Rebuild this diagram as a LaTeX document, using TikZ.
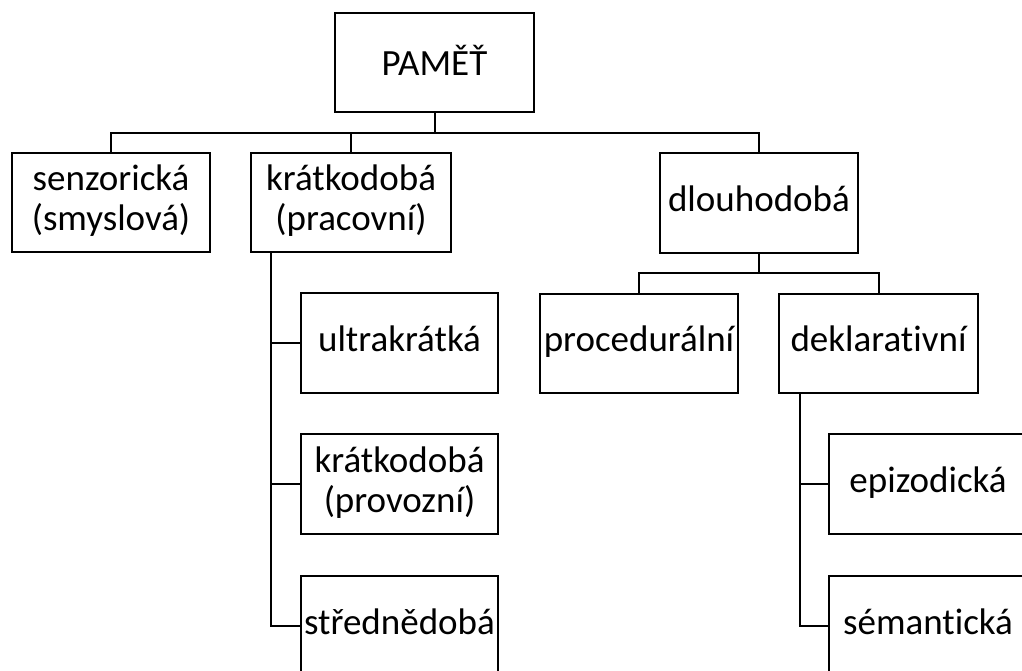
\documentclass[tikz,border=0pt]{standalone}
\usepackage{fontspec}
\setmainfont{Carlito}[Ligatures=NoCommon]
\begin{document}
\begin{tikzpicture}[x=1pt,y=-1pt,
  box/.style={draw, line width=2pt, inner sep=0pt, align=center,
    font=\fontsize{37}{40}\selectfont},
  conn/.style={line width=2pt}]
\useasboundingbox (0,0) rectangle (1022,670);
\clip (0,0) rectangle (1022,670);
\node[box, minimum width=199pt, minimum height=99pt] (pam) at (434.5,62.5) {\strut\raisebox{-5pt}{PAMĚŤ}};
\node[box, minimum width=198pt, minimum height=99pt] (sen) at (111,202.5) {\strut senzorická\\\strut(smyslová)};
\node[box, minimum width=200pt, minimum height=99pt] (kra) at (351,202.5) {\strut krátkodobá\\\strut(pracovní)};
\node[box, minimum width=198pt, minimum height=100pt] (dlo) at (759,203) {\strut dlouhodobá};
\node[box, minimum width=197pt, minimum height=100pt] (ult) at (399.5,343) {\strut ultrakrátká};
\node[box, minimum width=197pt, minimum height=100pt] (kpr) at (399.5,484) {\strut krátkodobá\\\strut(provozní)};
\node[box, minimum width=197pt, minimum height=100pt] (str) at (399.5,626) {\strut střednědobá};
\node[box, minimum width=198pt, minimum height=99pt] (pro) at (639,343.5) {\strut procedurální};
\node[box, minimum width=199pt, minimum height=99pt] (dek) at (878.5,343.5) {\strut deklarativní};
\node[box, minimum width=198pt, minimum height=100pt] (epi) at (928,484) {\strut epizodická};
\node[box, minimum width=198pt, minimum height=100pt] (sem) at (928,626) {\strut sémantická};
\coordinate (b1) at (0,133);
\coordinate (b2) at (0,273);
\coordinate (kx) at (271,0);
\coordinate (dx) at (800,0);
\draw[conn] (pam.south) -- (pam.south |- b1) -| (sen.north);
\draw[conn] (pam.south |- b1) -| (kra.north);
\draw[conn] (pam.south |- b1) -| (dlo.north);
\draw[conn] (dlo.south) -- (dlo.south |- b2) -| (pro.north);
\draw[conn] (dlo.south |- b2) -| (dek.north);
\draw[conn] (kra.south -| kx) |- (ult.west);
\draw[conn] (kra.south -| kx) |- (kpr.west);
\draw[conn] (kra.south -| kx) |- (str.west);
\draw[conn] (dek.south -| dx) |- (epi.west);
\draw[conn] (dek.south -| dx) |- (sem.west);
\end{tikzpicture}
\end{document}
